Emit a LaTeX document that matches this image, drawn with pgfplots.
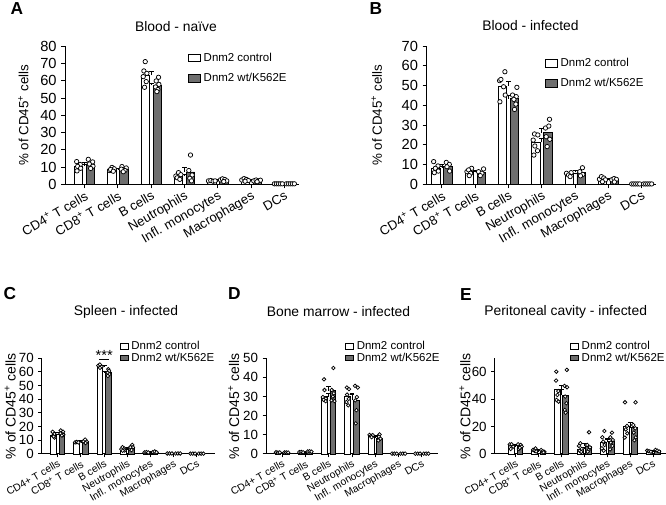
\documentclass[border=0pt]{standalone}
\usepackage{fontspec}
\setmainfont{Liberation Sans}
\usepackage{pgfplots}
\usepackage{pgfplotstable}
\pgfplotsset{compat=1.18}
\definecolor{mut}{HTML}{6E6E6E}
\newcommand\fs[1]{\fontsize{#1}{#1}\selectfont}

% means and SEM: c, control mean/err, mutant mean/err
\pgfplotstableread{
c m1 e1 m2 e2
0 10.6 0.9 11.8 1.0
1 8.6 0.4 8.8 0.5
2 63.3 2.1 57.6 1.2
3 4.8 0.7 7.2 2.4
4 2.0 0.1 2.4 0.3
5 2.5 0.3 2.1 0.2
6 0.3 0.02 0.3 0.02
}\Amean
\pgfplotstableread{
c m1 e1 m2 e2
0 8.3 1.0 9.2 1.0
1 6.4 0.6 6.0 0.7
2 49.8 2.3 43.4 1.6
3 21.2 1.8 26.2 2.0
4 5.0 0.5 6.0 0.9
5 2.7 0.4 2.2 0.4
6 0.2 0.02 0.2 0.02
}\Bmean
\pgfplotstableread{
c m1 e1 m2 e2
0 13.8 0.8 15.2 0.7
1 8.6 0.3 9.2 0.5
2 64.1 0.5 59.5 0.9
3 3.5 0.5 4.4 0.7
4 1.2 0.1 1.5 0.2
5 0.4 0.03 0.4 0.03
6 0.3 0.02 0.3 0.02
}\Cmean
\pgfplotstableread{
c m1 e1 m2 e2
0 0.8 0.05 0.8 0.05
1 1.0 0.05 1.3 0.05
2 30.0 1.7 33.0 2.5
3 30.3 1.4 28.2 2.8
4 9.6 0.3 8.4 0.6
5 0.2 0.02 0.2 0.02
6 0.2 0.02 0.2 0.02
}\Dmean
\pgfplotstableread{
c m1 e1 m2 e2
0 6.2 0.8 5.5 0.7
1 2.7 0.5 1.9 0.4
2 47.0 3.3 43.1 3.9
3 3.6 1.1 5.8 2.1
4 8.5 2.2 9.3 1.8
5 19.9 3.5 19.3 3.9
6 2.0 0.3 2.4 0.4
}\Emean

% single animals: c (category), j (horizontal spread), y
\pgfplotstableread{
c j y
0 -0.06 13.2
0 0.05 11.5
0 -0.03 10.4
0 0.06 9.3
0 -0.05 7.8
1 -0.07 8.0
1 0.0 9.8
1 0.07 9.0
1 -0.04 8.6
1 0.04 7.6
2 0.0 71.2
2 -0.04 65.8
2 0.05 64.4
2 -0.06 62.5
2 0.03 59.6
2 -0.02 56.3
3 -0.08 4.8
3 0.0 6.8
3 0.07 5.6
3 -0.04 3.8
3 0.04 2.9
4 -0.1 2.0
4 -0.03 2.2
4 0.04 1.8
4 0.1 2.0
5 -0.1 2.5
5 -0.03 3.3
5 0.04 2.8
5 0.1 2.2
5 0.0 1.8
6 -0.12 0.3
6 -0.06 0.3
6 0.0 0.3
6 0.06 0.3
6 0.12 0.3
}\Actl
\pgfplotstableread{
c j y
0 -0.07 14.5
0 0.06 13.0
0 -0.04 11.8
0 0.07 10.5
0 0.0 9.2
1 -0.06 10.3
1 0.07 9.5
1 -0.08 8.8
1 0.03 8.0
1 -0.02 7.3
2 0.04 62.1
2 -0.03 60.0
2 0.05 58.0
2 -0.05 56.5
2 0.02 55.0
2 -0.01 53.8
3 0.0 17.0
3 -0.05 8.0
3 0.05 5.4
3 -0.02 3.5
3 0.03 2.0
4 -0.1 2.6
4 -0.04 3.2
4 0.03 2.8
4 0.09 2.0
4 0.0 1.6
5 -0.1 2.0
5 -0.03 2.5
5 0.04 2.0
5 0.1 2.4
5 0.0 1.5
6 -0.12 0.3
6 -0.06 0.3
6 0.0 0.3
6 0.06 0.3
6 0.12 0.3
}\Amut
\pgfplotstableread{
c j y
0 -0.07 11.5
0 0.06 9.3
0 -0.02 8.1
0 0.07 6.7
0 -0.05 5.9
1 -0.07 6.4
1 0.07 8.1
1 -0.02 7.3
1 0.04 5.6
1 0.0 4.4
2 -0.09 52.5
2 0.07 57.0
2 -0.05 53.1
2 0.03 49.4
2 0.08 45.2
2 -0.08 41.8
3 -0.08 22.4
3 -0.04 25.5
3 0.06 25.0
3 -0.03 19.4
3 0.05 17.0
3 -0.06 14.8
4 -0.08 5.6
4 0.06 5.9
4 -0.02 4.7
4 0.03 3.9
5 -0.09 2.6
5 -0.03 3.9
5 0.04 3.2
5 0.09 2.3
5 0.0 1.3
6 -0.12 0.2
6 -0.06 0.2
6 0.0 0.2
6 0.06 0.2
6 0.12 0.2
}\Bctl
\pgfplotstableread{
c j y
0 -0.05 11.1
0 0.04 10.1
0 -0.03 8.9
0 0.05 6.7
1 -0.08 6.4
1 0.07 7.8
1 0.02 5.6
1 -0.03 4.4
2 0.07 49.1
2 -0.06 45.2
2 0.05 44.4
2 -0.02 43.0
2 0.04 40.6
2 0.0 37.9
3 0.05 32.9
3 -0.07 28.5
3 0.03 29.5
3 -0.05 24.1
3 0.06 22.8
3 -0.02 19.1
4 0.04 8.4
4 -0.04 6.4
4 0.05 5.0
4 -0.02 4.3
5 -0.08 2.3
5 -0.01 2.9
5 0.06 2.5
5 0.0 1.2
6 -0.12 0.2
6 -0.06 0.2
6 0.0 0.2
6 0.06 0.2
6 0.12 0.2
}\Bmut
\pgfplotstableread{
c j y
0 -0.04 16.2
0 0.03 14.6
0 -0.03 13.2
0 0.04 12.0
0 0.0 12.8
1 -0.07 8.5
1 0.0 8.8
1 0.07 8.5
2 -0.07 64.6
2 0.0 65.4
2 0.07 63.8
2 0.0 63.0
3 -0.08 3.6
3 -0.03 5.0
3 0.05 4.0
3 0.06 2.6
3 -0.02 2.4
4 -0.08 1.2
4 0.0 1.4
4 0.08 1.1
5 -0.1 0.4
5 0.0 0.4
5 0.1 0.4
6 -0.1 0.3
6 0.0 0.3
6 0.1 0.3
}\Cctl
\pgfplotstableread{
c j y
0 -0.05 17.2
0 0.05 16.3
0 -0.06 15.1
0 0.06 14.0
0 0.0 13.5
1 -0.07 9.3
1 0.0 10.5
1 0.07 9.0
1 0.02 8.0
2 0.0 62.0
2 0.03 60.7
2 -0.03 59.3
2 0.04 58.3
2 -0.02 57.1
3 -0.07 3.5
3 0.03 6.6
3 0.06 4.9
3 0.0 2.9
3 -0.05 5.0
4 -0.08 1.4
4 0.0 1.8
4 0.08 1.2
5 -0.1 0.4
5 0.0 0.4
5 0.1 0.4
6 -0.1 0.3
6 0.0 0.3
6 0.1 0.3
}\Cmut
\pgfplotstableread{
c j y
0 -0.08 0.9
0 0.0 0.7
0 0.08 0.8
1 -0.08 1.0
1 0.0 1.1
1 0.08 0.9
2 -0.02 39.0
2 0.0 33.4
2 -0.07 29.7
2 0.06 29.0
2 -0.04 28.3
2 0.05 27.6
3 -0.04 34.7
3 0.05 33.9
3 0.04 28.8
3 -0.06 27.1
3 0.02 25.4
3 -0.03 31.0
4 -0.07 10.0
4 0.0 9.5
4 0.07 9.8
4 0.02 8.8
5 -0.1 0.2
5 0.0 0.2
5 0.1 0.2
6 -0.1 0.2
6 0.0 0.2
6 0.1 0.2
}\Dctl
\pgfplotstableread{
c j y
0 -0.08 0.8
0 0.0 0.8
0 0.08 0.8
1 -0.08 1.3
1 0.0 1.4
1 0.08 1.2
2 0.02 44.9
2 -0.05 33.4
2 0.04 31.7
2 0.0 30.0
2 -0.06 28.0
2 0.07 27.6
3 -0.05 35.6
3 0.07 34.7
3 0.03 29.7
3 -0.04 28.0
3 0.01 22.9
3 -0.02 16.0
4 0.0 10.2
4 -0.03 9.0
4 0.04 8.0
4 -0.05 7.1
5 -0.1 0.2
5 0.0 0.2
5 0.1 0.2
6 -0.1 0.2
6 0.0 0.2
6 0.1 0.2
}\Dmut
\pgfplotstableread{
c j y
0 -0.08 7.0
0 0.0 7.1
0 0.07 5.4
0 -0.04 3.7
1 -0.06 3.0
1 0.04 4.1
1 0.0 2.4
1 0.07 1.9
2 -0.05 60.2
2 -0.06 53.7
2 0.04 46.0
2 0.0 43.2
2 -0.04 39.5
2 0.05 38.3
3 0.0 7.8
3 -0.06 5.9
3 0.06 3.7
3 -0.03 2.4
3 0.04 1.5
4 0.05 16.8
4 -0.04 12.2
4 0.0 9.0
4 0.06 6.6
4 -0.06 4.1
4 0.02 2.4
5 -0.05 37.8
5 0.04 20.5
5 -0.02 18.0
5 0.05 15.1
5 -0.06 12.0
6 -0.08 2.5
6 0.0 2.0
6 0.08 1.6
}\Ectl
\pgfplotstableread{
c j y
0 -0.08 7.1
0 0.04 6.6
0 0.08 5.4
0 -0.04 3.7
0 0.0 4.5
1 -0.07 2.9
1 0.0 2.0
1 0.07 1.5
1 0.03 1.2
2 0.05 61.5
2 -0.05 49.8
2 0.06 48.8
2 -0.02 42.0
2 0.03 37.1
2 -0.04 32.2
2 0.0 30.2
3 0.02 15.9
3 -0.06 6.6
3 0.06 4.9
3 0.0 2.9
3 -0.04 1.7
4 0.02 15.6
4 -0.05 12.2
4 0.06 10.2
4 -0.03 8.3
4 0.04 5.9
4 -0.06 3.4
5 0.05 37.8
5 -0.05 21.2
5 0.04 18.8
5 -0.03 15.6
5 0.06 12.2
5 0.0 10.0
6 -0.08 3.0
6 0.0 2.4
6 0.08 1.8
}\Emut

\pgfplotsset{
  dnmbase/.style={
    scale only axis, anchor=south west, clip=false,
    axis lines*=left, tick align=outside, ymin=0,
    axis line style={line width=0.75pt}, tick style={line width=0.75pt, black},
    major tick length=3pt, xtick={0,1,2,3,4,5,6},
    x tick label style={rotate=30, anchor=north east, inner sep=1pt},
    ylabel={\% of CD45\textsuperscript{+} cells},
    legend cell align=left,
    /pgf/number format/assume math mode=true,
  },
  dnmbig/.style={dnmbase,
    y tick label style={font=\fs{11}},
    x tick label style={font=\fs{9.8}},
    xticklabels={CD4\textsuperscript{+} T cells, CD8\textsuperscript{+} T cells, B cells, Neutrophils, Infl. monocytes, Macrophages, DCs},
    ylabel style={font=\fs{10}},
    legend style={draw=none, fill=none, anchor=north west, inner sep=0pt, font=\fs{8.6}, row sep=3.5pt},
    legend image code/.code={\draw[##1, line width=0.55pt] (0pt,-2.8pt) rectangle (9pt,2.8pt);},
  },
  dnmsmall/.style={dnmbase,
    y tick label style={font=\fs{10}},
    x tick label style={font=\fs{7.8}},
    xticklabels={CD4+ T cells, CD8\textsuperscript{+} T cells, B cells, Neutrophils, Infl. monocytes, Macrophages, DCs},
    ylabel style={font=\fs{10.5}},
    major tick length=2.5pt,
    legend style={draw=none, fill=none, anchor=north west, inner sep=0pt, font=\fs{8.6}, row sep=-3pt},
    legend image code/.code={\draw[##1, line width=0.55pt] (0pt,-2.2pt) rectangle (6pt,2.2pt);},
  },
  ctlbar/.style={ybar, forget plot, bar width=0.25, bar shift=-0.18, fill=white, draw=black, line width=0.6pt,
    error bars/y dir=plus, error bars/y explicit,
    error bars/error bar style={line width=0.6pt, black},
    error bars/error mark options={rotate=90, mark size=1.8pt, line width=0.6pt, black}},
  mutbar/.style={ctlbar, bar shift=0.18, fill=mut},
  dotbig/.style={only marks, forget plot, mark=*, mark size=1.65pt,
    mark options={fill=white, draw=black, line width=0.55pt}},
  dotsmall/.style={dotbig, mark size=1.35pt},
}

\begin{document}
\begin{tikzpicture}
\path[use as bounding box] (0,0) rectangle (499.5pt,378.75pt);

% A
\begin{axis}[dnmbig, at={(49pt,240.5pt)}, width=175pt, height=103.4pt,
  xmin=-0.58, xmax=6.43, ymax=80, ytick={0,10,...,80},
  ylabel style={at={(axis description cs:0,0.5)}, anchor=south, yshift=24pt},
  legend style={at={(0.526,0.975)}}]
\addplot[ctlbar] table[x=c, y=m1, y error=e1] {\Amean};
\addplot[mutbar] table[x=c, y=m2, y error=e2] {\Amean};
\addplot[dotbig] table[x expr=\thisrow{c}-0.18+\thisrow{j}, y=y] {\Actl};
\addplot[dotbig] table[x expr=\thisrow{c}+0.18+\thisrow{j}, y=y] {\Amut};
\addlegendimage{fill=white, draw=black}\addlegendentry{Dnm2 control}
\addlegendimage{fill=mut, draw=black}\addlegendentry{Dnm2 wt/K562E}
\end{axis}

% B
\begin{axis}[dnmbig, at={(320pt,240.5pt)}, width=172pt, height=103.7pt,
  xmin=-0.46, xmax=6.43, ymax=70, ytick={0,10,...,70},
  ylabel style={at={(axis description cs:0,0.5)}, anchor=south, yshift=30pt},
  legend style={at={(0.516,0.935)}}]
\addplot[ctlbar] table[x=c, y=m1, y error=e1] {\Bmean};
\addplot[mutbar] table[x=c, y=m2, y error=e2] {\Bmean};
\addplot[dotbig] table[x expr=\thisrow{c}-0.18+\thisrow{j}, y=y] {\Bctl};
\addplot[dotbig] table[x expr=\thisrow{c}+0.18+\thisrow{j}, y=y] {\Bmut};
\addlegendimage{fill=white, draw=black}\addlegendentry{Dnm2 control}
\addlegendimage{fill=mut, draw=black}\addlegendentry{Dnm2 wt/K562E}
\end{axis}

% C
\begin{axis}[dnmsmall, at={(31.3pt,38.25pt)}, width=130pt, height=71.8pt,
  xmin=-0.69, xmax=6.78, ymax=70, ytick={0,10,...,70},
  ylabel style={at={(axis description cs:0,0.5)}, anchor=south, yshift=16pt},
  legend style={at={(0.45,1.21)}}]
\addplot[ctlbar] table[x=c, y=m1, y error=e1] {\Cmean};
\addplot[mutbar] table[x=c, y=m2, y error=e2] {\Cmean};
\addplot[dotsmall] table[x expr=\thisrow{c}-0.18+\thisrow{j}, y=y] {\Cctl};
\addplot[dotsmall] table[x expr=\thisrow{c}+0.18+\thisrow{j}, y=y] {\Cmut};
\draw[line width=0.6pt] (axis cs:1.78,69.5) -- (axis cs:2.22,69.5);
\node[font=\fs{11}, anchor=base, inner sep=0pt, yshift=-1.4pt] at (axis cs:2,69.5) {***};
\addlegendimage{fill=white, draw=black}\addlegendentry{Dnm2 control}
\addlegendimage{fill=mut, draw=black}\addlegendentry{Dnm2 wt/K562E}
\end{axis}

% D
\begin{axis}[dnmsmall, at={(199.5pt,38.25pt)}, width=129pt, height=71.8pt,
  xmin=-0.69, xmax=6.69, ymax=50, ytick={0,10,...,50},
  ylabel style={at={(axis description cs:0,0.5)}, anchor=south, yshift=16.5pt},
  legend style={at={(0.46,1.21)}}]
\addplot[ctlbar] table[x=c, y=m1, y error=e1] {\Dmean};
\addplot[mutbar] table[x=c, y=m2, y error=e2] {\Dmean};
\addplot[dotsmall] table[x expr=\thisrow{c}-0.18+\thisrow{j}, y=y] {\Dctl};
\addplot[dotsmall] table[x expr=\thisrow{c}+0.18+\thisrow{j}, y=y] {\Dmut};
\addlegendimage{fill=white, draw=black}\addlegendentry{Dnm2 control}
\addlegendimage{fill=mut, draw=black}\addlegendentry{Dnm2 wt/K562E}
\end{axis}

% E
\begin{axis}[dnmsmall, at={(371pt,38.25pt)}, width=128.5pt, height=71.8pt,
  xmin=-0.92, xmax=6.56, ymax=70, ytick={0,20,40,60},
  ylabel style={at={(axis description cs:0,0.5)}, anchor=south, yshift=14.5pt},
  legend style={at={(0.44,1.21)}}]
\addplot[ctlbar] table[x=c, y=m1, y error=e1] {\Emean};
\addplot[mutbar] table[x=c, y=m2, y error=e2] {\Emean};
\addplot[dotsmall] table[x expr=\thisrow{c}-0.18+\thisrow{j}, y=y] {\Ectl};
\addplot[dotsmall] table[x expr=\thisrow{c}+0.18+\thisrow{j}, y=y] {\Emut};
\addlegendimage{fill=white, draw=black}\addlegendentry{Dnm2 control}
\addlegendimage{fill=mut, draw=black}\addlegendentry{Dnm2 wt/K562E}
\end{axis}

% titles and panel letters, placed in pixel units of the 666x505 figure
\begin{scope}[shift={(0pt,378.75pt)}, x=0.75pt, y=-0.75pt]
\node[font=\bfseries\fs{13}] at (17,9) {A};
\node[font=\bfseries\fs{13}] at (376,9) {B};
\node[font=\bfseries\fs{13}] at (10,294) {C};
\node[font=\bfseries\fs{13}] at (234.5,294) {D};
\node[font=\bfseries\fs{13}] at (466,295) {E};
\node[font=\fs{10.4}] at (176,27) {Blood - naïve};
\node[font=\fs{10.4}] at (530.5,26) {Blood - infected};
\node[font=\fs{10.4}] at (126,312) {Spleen - infected};
\node[font=\fs{10.4}] at (338.5,312) {Bone marrow - infected};
\node[font=\fs{10.4}] at (565.7,312) {Peritoneal cavity - infected};
\end{scope}
\end{tikzpicture}
\end{document}
